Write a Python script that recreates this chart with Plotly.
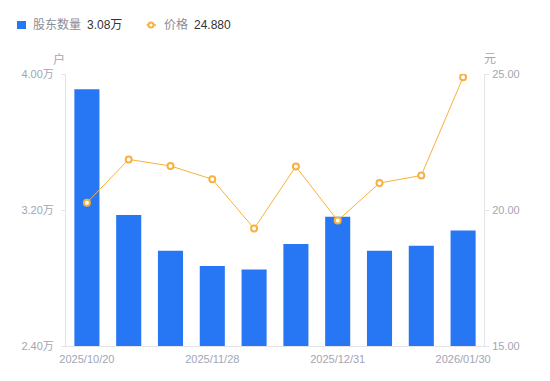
import plotly.graph_objects as go

dates = ["2025/10/20", "2025/10/31", "2025/11/10", "2025/11/28", "2025/12/10",
         "2025/12/19", "2025/12/31", "2026/01/09", "2026/01/20", "2026/01/30"]
holders = [3.91, 3.17, 2.96, 2.87, 2.85, 3.00, 3.16, 2.96, 2.99, 3.08]  # 万户
prices = [20.27, 21.86, 21.62, 21.13, 19.32, 21.60, 19.61, 20.99, 21.27, 24.88]
shown_ticks = ["2025/10/20", "2025/11/28", "2025/12/31", "2026/01/30"]
left_ticks = [2.40, 3.20, 4.00]
right_ticks = [15.00, 20.00, 25.00]

BLUE = "#2777F5"
ORANGE = "#F8B13E"
GRAY = "#A3A5B3"
LGRAY = "#8a8c99"
DARK = "#333333"
AXIS = "#E4E4E8"
FONT = "Liberation Sans, Noto Sans CJK SC, sans-serif"

fig = go.Figure()
fig.add_trace(go.Bar(
    x=dates, y=holders, marker=dict(color=BLUE, line=dict(width=0)),
    width=0.6, name="股东数量", yaxis="y", showlegend=False))
fig.add_trace(go.Scatter(
    x=dates, y=prices, mode="lines+markers",
    line=dict(color=ORANGE, width=1),
    marker=dict(symbol="circle", size=6, color="white", line=dict(color=ORANGE, width=2)),
    name="价格", yaxis="y2", showlegend=False))

# page has an 8px body margin; figure sized to fit the window
OFF = 8
W, H = 542, 373
L, R, T, B = 58, 66, 66, 35
PW = W - L - R
PH = H - T - B


def px(page_x):
    return (page_x - OFF - L) / PW


def py(page_y):
    return (H - B - (page_y - OFF)) / PH


annots = [
    dict(text="户", xref="paper", yref="paper", x=0, y=1, xshift=-7.5, yshift=15,
         xanchor="center", yanchor="middle", showarrow=False,
         font=dict(size=12, color=GRAY)),
    dict(text="元", xref="paper", yref="paper", x=1, y=1, xshift=6, yshift=15,
         xanchor="center", yanchor="middle", showarrow=False,
         font=dict(size=12, color=GRAY)),
]
legend_texts = [
    ("股东数量", 31, LGRAY),
    (f"{holders[-1]:.2f}万", 85, DARK),
    ("价格", 161.5, LGRAY),
    (f"{prices[-1]:.3f}", 192, DARK),
]
for txt, xp, col in legend_texts:
    annots.append(dict(text=txt, xref="paper", yref="paper", x=px(xp), y=py(25),
                       xanchor="left", yanchor="middle", showarrow=False,
                       font=dict(size=12, color=col)))

shapes = [
    dict(type="rect", xref="paper", yref="paper", x0=px(17), x1=px(26), y0=py(29), y1=py(21),
         fillcolor=BLUE, line=dict(width=0), layer="above"),
    dict(type="line", xref="paper", yref="paper", x0=px(146.5), x1=px(156), y0=py(25), y1=py(25),
         line=dict(color=ORANGE, width=1.5), layer="above"),
    dict(type="circle", xref="paper", yref="paper", x0=px(148.5), x1=px(153.5), y0=py(27.5), y1=py(22.5),
         fillcolor="white", line=dict(color=ORANGE, width=2), layer="above"),
]

fig.update_layout(
    width=W, height=H,
    margin=dict(l=L, r=R, t=T, b=B, autoexpand=False),
    plot_bgcolor="white", paper_bgcolor="white",
    font=dict(family=FONT, size=11, color=GRAY),
    showlegend=False,
    bargap=0.4,
    xaxis=dict(type="category", categoryorder="array", categoryarray=dates,
               range=[-0.5, len(dates) - 0.5],
               tickmode="array", tickvals=shown_ticks, ticktext=shown_ticks,
               showgrid=False, showline=True, linecolor=AXIS, linewidth=1,
               ticks="", ticklabelstandoff=3,
               tickfont=dict(color=GRAY, size=11), zeroline=False,
               automargin=False),
    yaxis=dict(range=[2.40, 4.00], tickmode="array", tickvals=left_ticks,
               ticktext=[f"{v:.2f}万" for v in left_ticks],
               showgrid=False, showline=True, linecolor=AXIS, linewidth=1,
               ticks="outside", ticklen=4, tickcolor=AXIS, ticklabelstandoff=5,
               tickfont=dict(color=GRAY, size=11), zeroline=False, automargin=False),
    yaxis2=dict(range=[15, 25], overlaying="y", side="right", tickmode="array",
                tickvals=right_ticks, ticktext=[f"{v:.2f}" for v in right_ticks],
                showgrid=False, showline=True, linecolor=AXIS, linewidth=1,
                ticks="outside", ticklen=4, tickcolor=AXIS, ticklabelstandoff=1,
                tickfont=dict(color=GRAY, size=11), zeroline=False, automargin=False),
    annotations=annots,
    shapes=shapes,
)

fig.write_html("out.html")
